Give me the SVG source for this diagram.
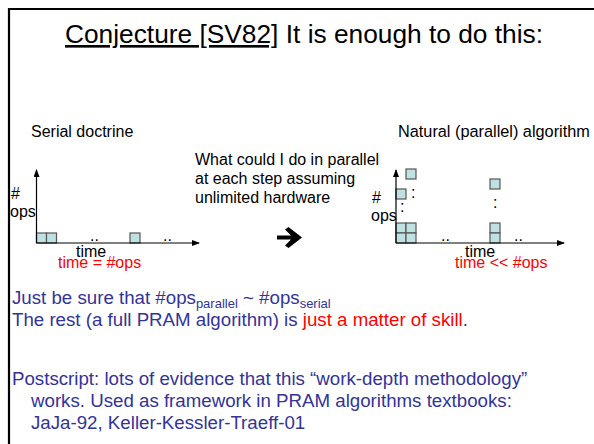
<svg xmlns="http://www.w3.org/2000/svg" width="594" height="444" viewBox="0 0 594 444">
  <defs>
    <marker id="ah" viewBox="0 0 8 6" refX="7" refY="3" markerWidth="8" markerHeight="6" markerUnits="userSpaceOnUse" orient="auto">
      <path d="M0,0 L8,3 L0,6 Z" fill="#000"/>
    </marker>
    <style>
      text { font-family: "Liberation Sans", Arial, sans-serif; }
      .t16 { font-size: 16px; fill: #000; }
      .red { font-size: 16px; fill: #ff0000; }
      .blue { font-size: 18.7px; fill: #333399; }
      .sub { font-size: 13px; }
      .box { fill: #bfe1e1; stroke: #555; stroke-width: 1.2; }
      .axis { stroke: #000; stroke-width: 1.2; fill: none; }
      .dots { font-size: 16px; fill: #000; }
    </style>
  </defs>

  <rect width="594" height="444" fill="#fff"/>

  <!-- slide frame (top and left edges) -->
  <path d="M9,444 V9 H594" fill="none" stroke="#000" stroke-width="2.2"/>

  <!-- title -->
  <g id="title">
    <text x="65" y="43" style="font-size:26.3px" fill="#000"><tspan text-decoration="underline">Conjecture [SV82]</tspan> It is enough to do this:</text>
  </g>

  <!-- serial chart -->
  <g id="serial">
    <text class="t16" x="31" y="137">Serial doctrine</text>
    <text class="t16" x="11" y="199">#</text>
    <text class="t16" x="10" y="217">ops</text>
    <rect class="box" x="36.5" y="233" width="10" height="10"/>
    <rect class="box" x="46.5" y="233" width="10" height="10"/>
    <rect class="box" x="130" y="233" width="10" height="10"/>
    <text class="dots" x="90" y="241">..</text>
    <text class="dots" x="163" y="241">..</text>
    <text class="t16" x="76" y="257">time</text>
    <text class="red" x="58" y="268">time = #ops</text>
  </g>

  <!-- middle question -->
  <g id="question">
    <text class="t16" x="195" y="164.5">What could I do in parallel</text>
    <text class="t16" x="195" y="183.5">at each step assuming</text>
    <text class="t16" x="195" y="202.5">unlimited hardware</text>
    <polygon points="277,235.5 291,235.5 285,229.5 288.5,227 302,237.5 288.5,248 285,245.5 291,239.5 277,239.5" fill="#000"/>
  </g>

  <!-- parallel chart -->
  <g id="parallel">
    <text class="t16" x="398" y="137" style="font-size:16.3px">Natural (parallel) algorithm</text>
    <text class="t16" x="372" y="203">#</text>
    <text class="t16" x="371" y="221">ops</text>
    <rect class="box" x="396" y="223" width="10" height="10"/>
    <rect class="box" x="406" y="223" width="10" height="10"/>
    <rect class="box" x="396" y="233" width="10" height="10"/>
    <rect class="box" x="406" y="233" width="10" height="10"/>
    <rect class="box" x="396" y="189" width="10" height="10"/>
    <rect class="box" x="406" y="169" width="10" height="10"/>
    <text class="dots" x="411" y="198">:</text>
    <text class="dots" x="400" y="212">:</text>
    <rect class="box" x="490" y="223" width="10" height="10"/>
    <rect class="box" x="490" y="233" width="10" height="10"/>
    <rect class="box" x="490" y="179" width="10" height="10"/>
    <text class="dots" x="493" y="208">:</text>
    <text class="dots" x="441" y="241">..</text>
    <text class="dots" x="514" y="241">..</text>
    <text class="t16" x="465" y="257">time</text>
    <text class="red" x="455" y="268">time &lt;&lt; #ops</text>
  </g>

  <!-- axes -->
  <g id="connectors">
    <line class="axis" x1="36.5" y1="243" x2="36.5" y2="170" marker-end="url(#ah)"/>
    <line class="axis" x1="36.5" y1="243" x2="199" y2="243" marker-end="url(#ah)"/>
    <line class="axis" x1="396" y1="243" x2="396" y2="170" marker-end="url(#ah)"/>
    <line class="axis" x1="396" y1="243" x2="564" y2="243" marker-end="url(#ah)"/>
  </g>

  <!-- body text -->
  <g id="body">
    <text class="blue" x="12" y="304">Just be sure that #ops<tspan class="sub" dy="4">parallel</tspan><tspan dy="-4"> ~ #ops</tspan><tspan class="sub" dy="4">serial</tspan></text>
    <text class="blue" x="12" y="326">The rest (a full PRAM algorithm) is <tspan fill="#ff0000">just a matter of skill</tspan>.</text>
    <text class="blue" x="12" y="385">Postscript: lots of evidence that this “work-depth methodology”</text>
    <text class="blue" x="31" y="407">works. Used as framework in PRAM algorithms textbooks:</text>
    <text class="blue" x="31" y="429">JaJa-92, Keller-Kessler-Traeff-01</text>
  </g>
</svg>
